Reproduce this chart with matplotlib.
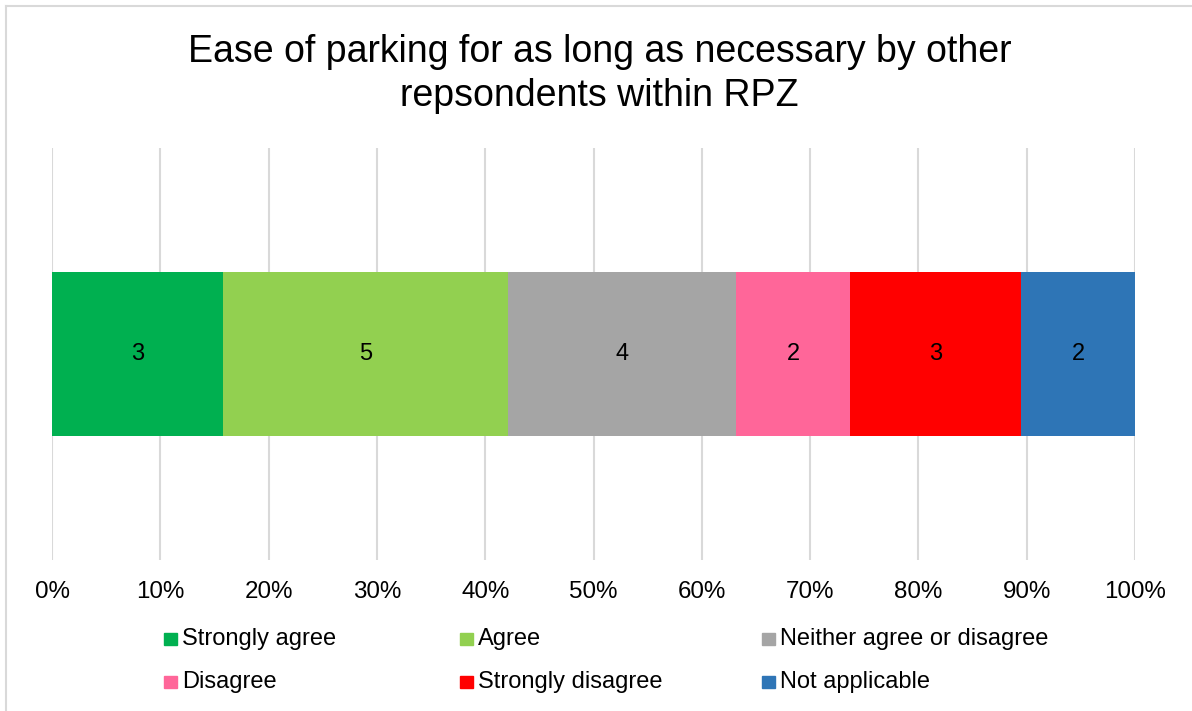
import matplotlib.pyplot as plt
from matplotlib.patches import Rectangle
from matplotlib.lines import Line2D
import numpy as np

plt.rcParams['font.family'] = ['Liberation Sans', 'DejaVu Sans']

# data
categories = ["Strongly agree", "Agree", "Neither agree or disagree",
              "Disagree", "Strongly disagree", "Not applicable"]
counts = [3, 5, 4, 2, 3, 2]
colors = ["#00B050", "#92D050", "#A5A5A5", "#FF6699", "#FF0000", "#2E75B6"]
ticks = [0, 10, 20, 30, 40, 50, 60, 70, 80, 90, 100]

total = sum(counts)
shares = np.array(counts) / total * 100
lefts = np.concatenate([[0], np.cumsum(shares)[:-1]])

fig = plt.figure(figsize=(11.92, 7.11), dpi=100)
ax = fig.add_axes([52/1192, 1 - 560/711, (1135 - 52)/1192, (560 - 148)/711])

for cat, s, l, c, n in zip(categories, shares, lefts, colors, counts):
    ax.barh(0, s, left=l, height=0.4, color=c, label=cat, zorder=3)
    ax.text(l + s/2, 0, str(n), ha="center", va="center", fontsize=17, color="black", zorder=4)

ax.set_xlim(0, 100)
ax.set_ylim(-0.5, 0.5)
ax.set_xticks(ticks)
ax.set_xticklabels([f"{t}%" for t in ticks], fontsize=17.4)
ax.set_yticks([])
ax.tick_params(axis="x", length=0, pad=15)
ax.grid(axis="x", color="#D9D9D9", linewidth=1.5, zorder=0)
for sp in ax.spines.values():
    sp.set_visible(False)

fig.text(0.503, 1 - 74/711, "Ease of parking for as long as necessary by other\nrepsondents within RPZ",
         ha="center", va="center", fontsize=27, linespacing=1.28)

# legend laid out as a 3-column grid
col_x = [164, 460, 762]
row_y = [639, 682]
for i, (cat, c) in enumerate(zip(categories, colors)):
    x = col_x[i % 3]
    y = row_y[i // 3]
    fig.patches.append(Rectangle((x/1192, (711 - y - 6)/711), 13/1192, 12/711,
                                 transform=fig.transFigure, color=c))
    fig.text((x + 18)/1192, 1 - y/711, cat, ha="left", va="center", fontsize=17)

# chart border (left and top visible)
fig.add_artist(Line2D([5.5/1192, 5.5/1192], [0, 1 - 6/711], transform=fig.transFigure,
                      color="#D9D9D9", linewidth=1.5))
fig.add_artist(Line2D([5.5/1192, 1], [1 - 6/711, 1 - 6/711], transform=fig.transFigure,
                      color="#D9D9D9", linewidth=1.5))

plt.savefig("out.png", dpi=100)
plt.close()
